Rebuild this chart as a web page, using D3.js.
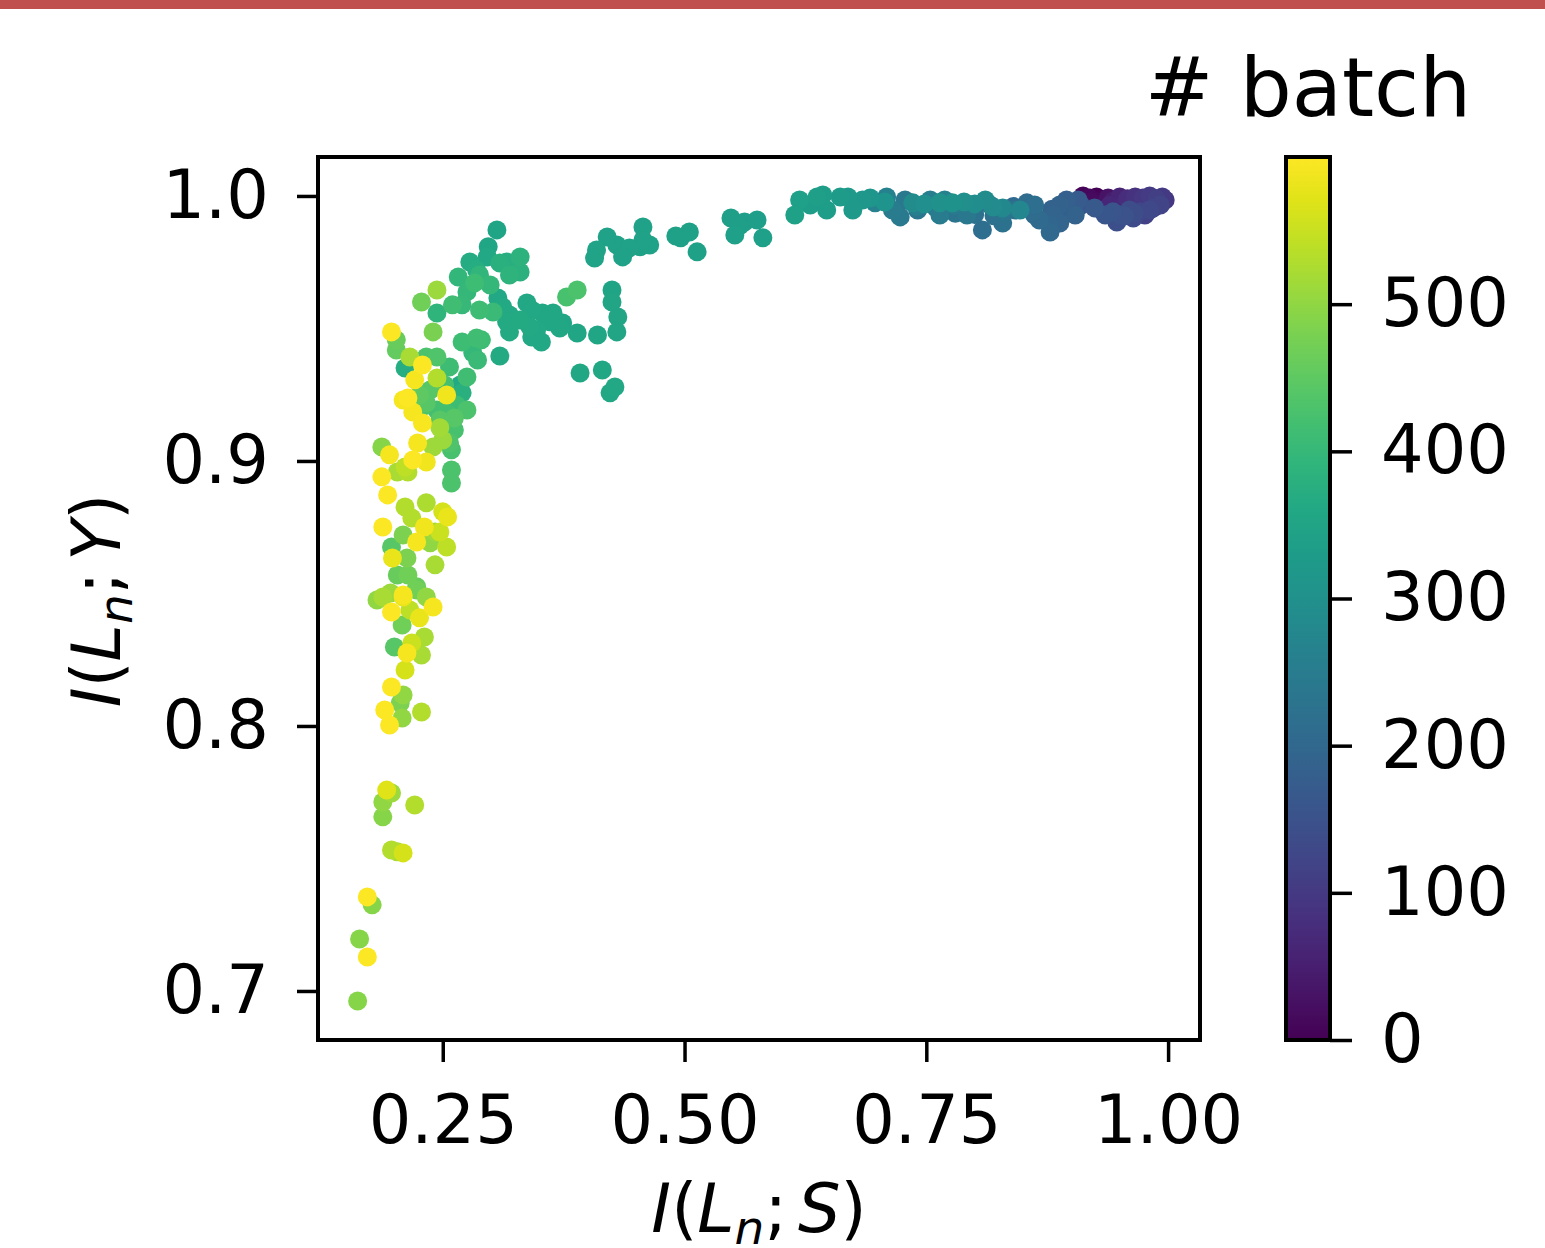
<!DOCTYPE html>
<html>
<head>
<meta charset="utf-8">
<script src="https://cdn.jsdelivr.net/npm/d3@7"></script>
<style>
    body { margin: 0; background: #ffffff; }
    svg text { font-family: "DejaVu Sans", sans-serif; fill: #000000; }
</style>
</head>
<body>
<div id="contenedorGrafico"></div>
<script>
// [I(L_n;S), I(L_n;Y), batch] leídos a ojo de la figura
const franjaSuperior = [
    [0.912, 1.000, 5], [0.919, 0.9992, 12], [0.926, 0.9996, 0], [0.931, 0.9985, 8], [0.921, 0.9977, 18],
    [0.938, 0.9992, 30], [0.943, 0.9981, 45], [0.950, 0.9996, 60], [0.958, 0.9989, 75], [0.966, 0.9996, 85],
    [0.974, 0.9992, 95], [0.981, 1.000, 105], [0.988, 0.9989, 110], [0.994, 0.9996, 100], [0.992, 0.9966, 120],
    [0.981, 0.9947, 130], [0.971, 0.9940, 125], [0.960, 0.9947, 140], [0.950, 0.9928, 150], [0.947, 0.9902, 145],
    [0.964, 0.9917, 135], [0.976, 0.9928, 115], [0.986, 0.9966, 90], [0.955, 0.9966, 70], [0.943, 0.9940, 155],
    [0.997, 0.9985, 95], [0.935, 0.9928, 160], [0.924, 0.9955, 165], [0.907, 0.9985, 170], [0.898, 0.9947, 175],
    [0.895, 0.9985, 180], [0.888, 0.9966, 185], [0.881, 0.9928, 190], [0.878, 0.9891, 195], [0.878, 0.9864, 200],
    [0.867, 0.9909, 205], [0.854, 0.9974, 210], [0.862, 0.9966, 215], [0.842, 0.9947, 220], [0.829, 0.9898, 225],
    [0.808, 0.9872, 215], [0.831, 0.9940, 230], [0.816, 0.9966, 235], [0.792, 0.9928, 240], [0.779, 0.9966, 245],
    [0.764, 0.9928, 250], [0.754, 0.9985, 255], [0.723, 0.9921, 245], [0.715, 0.9947, 250], [0.709, 0.9996, 260],
    [0.697, 0.9974, 265], [0.728, 0.9985, 240], [0.741, 0.9947, 235], [0.769, 0.9985, 262], [0.736, 0.9974, 290],
    [0.748, 0.9970, 295], [0.764, 0.9974, 300], [0.777, 0.9974, 305], [0.789, 0.9977, 298], [0.800, 0.9970, 292],
    [0.819, 0.9958, 285], [0.829, 0.9955, 280], [0.811, 0.9985, 288], [0.847, 0.9947, 275], [0.707, 0.9977, 310],
    [0.692, 0.9992, 315], [0.684, 0.9985, 320], [0.674, 0.9947, 325], [0.669, 0.9996, 322], [0.661, 0.9996, 328],
    [0.647, 0.9947, 330], [0.643, 1.0004, 332], [0.637, 0.9996, 335], [0.630, 0.9966, 330], [0.619, 0.9985, 338],
    [0.614, 0.9928, 340], [0.888, 0.9898, 190], [0.904, 0.9928, 185], [0.862, 0.9928, 200],
    [0.780, 0.9935, 230], [0.800, 0.9930, 225], [0.760, 0.9955, 240], [0.820, 0.9925, 220], [0.740, 0.9960, 255],
    [0.860, 0.9940, 210], [0.840, 0.9960, 205], [0.880, 0.9950, 185], [0.900, 0.9935, 175], [0.910, 0.9965, 160],
    [0.955, 0.9925, 150], [0.965, 0.9935, 140], [0.985, 0.9955, 120], [0.970, 0.9975, 80], [0.940, 0.9965, 65],
    [0.930, 0.9950, 40]
];
const franjaMedia = [
    [0.496, 0.9842, 338], [0.505, 0.9864, 340], [0.513, 0.9789, 342], [0.491, 0.9849, 341], [0.548, 0.9917, 335],
    [0.557, 0.9887, 336], [0.575, 0.9909, 334], [0.552, 0.9853, 337], [0.581, 0.9842, 339], [0.562, 0.9902, 333],
    [0.457, 0.9883, 344], [0.457, 0.9834, 345], [0.420, 0.9845, 346], [0.409, 0.9796, 347], [0.407, 0.9766, 348],
    [0.430, 0.9815, 345], [0.436, 0.9770, 346], [0.454, 0.9808, 343], [0.464, 0.9815, 344], [0.443, 0.9804, 345],
    [0.425, 0.9645, 350], [0.425, 0.9600, 351], [0.431, 0.9543, 352], [0.430, 0.9487, 353], [0.410, 0.9475, 354],
    [0.389, 0.9483, 355], [0.415, 0.9343, 356], [0.392, 0.9332, 357], [0.428, 0.9279, 358], [0.423, 0.9257, 357],
    [0.378, 0.9619, 425], [0.389, 0.9645, 430]
];
const grupoCodo = [
    [0.307, 0.9615, 360], [0.312, 0.9581, 362], [0.319, 0.9551, 361], [0.316, 0.9525, 363], [0.319, 0.9487, 364],
    [0.337, 0.9596, 358], [0.342, 0.9570, 359], [0.353, 0.9558, 357], [0.364, 0.9558, 356], [0.374, 0.9521, 355],
    [0.371, 0.9502, 357], [0.342, 0.9468, 360], [0.352, 0.9449, 359], [0.347, 0.9494, 358], [0.361, 0.9525, 356],
    [0.340, 0.9506, 361], [0.330, 0.9532, 363], [0.309, 0.9396, 365],
    [0.306, 0.9872, 350], [0.297, 0.9808, 355], [0.296, 0.9770, 360], [0.278, 0.9751, 368], [0.285, 0.9721, 372],
    [0.266, 0.9694, 395], [0.309, 0.9747, 380], [0.316, 0.9751, 376], [0.330, 0.9770, 385], [0.330, 0.9713, 382],
    [0.319, 0.9702, 388], [0.288, 0.9702, 392], [0.283, 0.9672, 410], [0.299, 0.9664, 400], [0.275, 0.9638, 398],
    [0.270, 0.9589, 402], [0.288, 0.9570, 412], [0.302, 0.9562, 405], [0.260, 0.9589, 415], [0.244, 0.9645, 510],
    [0.228, 0.9600, 470], [0.244, 0.9558, 390], [0.240, 0.9487, 478]
];
const colaAlta = [
    [0.197, 0.9487, 595], [0.202, 0.9457, 460], [0.202, 0.9419, 455], [0.216, 0.9392, 520], [0.211, 0.9351, 370],
    [0.221, 0.9306, 590], [0.229, 0.9362, 595], [0.233, 0.9392, 430], [0.244, 0.9392, 435], [0.257, 0.9355, 412],
    [0.244, 0.9313, 530], [0.254, 0.9249, 585], [0.270, 0.9449, 410], [0.285, 0.9464, 415], [0.290, 0.9457, 410],
    [0.281, 0.9408, 400], [0.286, 0.9381, 405], [0.275, 0.9317, 415], [0.268, 0.9287, 362], [0.270, 0.9257, 380],
    [0.264, 0.9211, 410], [0.275, 0.9192, 430], [0.214, 0.9238, 595], [0.219, 0.9185, 590], [0.229, 0.9204, 430],
    [0.244, 0.9192, 420], [0.254, 0.9181, 420], [0.237, 0.9268, 440], [0.252, 0.9287, 420], [0.226, 0.9249, 450],
    [0.262, 0.9117, 425], [0.247, 0.9155, 440]
];
const colaMedia = [
    [0.209, 0.9230, 590], [0.229, 0.9143, 592], [0.247, 0.9125, 515], [0.233, 0.9219, 440], [0.262, 0.9162, 440],
    [0.257, 0.9068, 432], [0.259, 0.9042, 425], [0.250, 0.9079, 510], [0.240, 0.9053, 512], [0.224, 0.9068, 590],
    [0.233, 0.8996, 585], [0.219, 0.9004, 595], [0.211, 0.8977, 540], [0.203, 0.8958, 520], [0.214, 0.8958, 530],
    [0.187, 0.9053, 490], [0.195, 0.9023, 590], [0.187, 0.8940, 595], [0.193, 0.8872, 595], [0.259, 0.8966, 430],
    [0.259, 0.8917, 430], [0.211, 0.8826, 530], [0.233, 0.8842, 525], [0.218, 0.8785, 530], [0.250, 0.8808, 560],
    [0.255, 0.8789, 580], [0.188, 0.8751, 595], [0.231, 0.8751, 585], [0.209, 0.8721, 480], [0.223, 0.8694, 590],
    [0.242, 0.8732, 510], [0.247, 0.8732, 550], [0.197, 0.8675, 440], [0.198, 0.8634, 580], [0.213, 0.8634, 480],
    [0.237, 0.8691, 500], [0.254, 0.8675, 540], [0.242, 0.8608, 520], [0.203, 0.8570, 460], [0.214, 0.8570, 470],
    [0.223, 0.8525, 460], [0.188, 0.8487, 520], [0.209, 0.8494, 590], [0.233, 0.8487, 500]
];
const colaBaja = [
    [0.182, 0.8475, 500], [0.196, 0.8502, 510], [0.209, 0.8487, 580], [0.223, 0.8513, 470], [0.240, 0.8449, 590],
    [0.197, 0.8430, 595], [0.216, 0.8438, 540], [0.226, 0.8408, 580], [0.208, 0.8381, 470], [0.231, 0.8336, 520],
    [0.200, 0.8298, 440], [0.218, 0.8313, 550], [0.228, 0.8268, 520], [0.213, 0.8275, 590], [0.211, 0.8211, 560],
    [0.197, 0.8147, 595], [0.209, 0.8117, 500], [0.206, 0.8087, 480], [0.190, 0.8060, 595], [0.228, 0.8053, 530],
    [0.195, 0.8004, 595], [0.208, 0.8030, 500], [0.192, 0.7758, 570], [0.197, 0.7747, 510], [0.188, 0.7713, 500],
    [0.188, 0.7657, 490], [0.221, 0.7702, 530], [0.197, 0.7532, 530], [0.203, 0.7525, 520], [0.209, 0.7521, 560],
    [0.172, 0.7355, 595], [0.177, 0.7325, 490], [0.164, 0.7196, 490], [0.172, 0.7128, 595], [0.162, 0.6962, 490]
];

const ticksX = [0.25, 0.50, 0.75, 1.00];
const ticksY = [0.7, 0.8, 0.9, 1.0];
const ticksBatch = [0, 100, 200, 300, 400, 500];
const batchMax = 599;

const ancho = 1545, alto = 1248;
const izq = 318, der = 1200, sup = 157, inf = 1040;
const barraIzq = 1286, barraDer = 1330;
const radioPunto = 9.5;
const grosor = 4;
const tamTexto = 67;

const $svg = d3.select("#contenedorGrafico")
    .append("svg")
    .attr("width", ancho)
    .attr("height", alto);

// franja roja de arriba
$svg.append("rect")
    .attr("x", 0).attr("y", 0)
    .attr("width", ancho).attr("height", 9)
    .attr("fill", "#c0504d");

const x = d3.scaleLinear().domain([0.121, 1.033]).range([izq, der]);
const y = d3.scaleLinear().domain([0.6815, 1.0147]).range([inf, sup]);
const color = d3.scaleSequential(d3.interpolateViridis).domain([0, batchMax]);
const yBarra = d3.scaleLinear().domain([0, 600]).range([inf, sup]);

const puntos = [].concat(franjaSuperior, franjaMedia, grupoCodo, colaAlta, colaMedia, colaBaja)
    .sort((a, b) => a[2] - b[2]);

$svg.append("g")
    .selectAll("circle")
    .data(puntos)
    .join("circle")
    .attr("cx", d => x(d[0]))
    .attr("cy", d => y(d[1]))
    .attr("r", radioPunto)
    .attr("fill", d => color(d[2]));

const estilizarEje = (g) => {
    g.select(".domain").remove();
    g.selectAll(".tick line").attr("stroke", "#000").attr("stroke-width", grosor - 0.5);
    g.selectAll(".tick text")
        .attr("font-size", tamTexto)
        .attr("font-family", "DejaVu Sans");
};

$svg.append("g")
    .attr("transform", `translate(0,${inf})`)
    .call(d3.axisBottom(x).tickValues(ticksX).tickFormat(d3.format(".2f")).tickSize(22).tickPadding(33))
    .call(estilizarEje);

$svg.append("g")
    .attr("transform", `translate(${izq},0)`)
    .call(d3.axisLeft(y).tickValues(ticksY).tickFormat(d3.format(".1f")).tickSize(21).tickPadding(28))
    .call(estilizarEje);

// marco del gráfico encima de los puntos
$svg.append("rect")
    .attr("x", izq).attr("y", sup)
    .attr("width", der - izq).attr("height", inf - sup)
    .attr("fill", "none")
    .attr("stroke", "#000")
    .attr("stroke-width", grosor);

// barra de color
const gradiente = $svg.append("defs").append("linearGradient")
    .attr("id", "degradado")
    .attr("x1", 0).attr("y1", 1).attr("x2", 0).attr("y2", 0);
gradiente.selectAll("stop")
    .data(d3.range(0, 1.0001, 0.05))
    .join("stop")
    .attr("offset", d => d)
    .attr("stop-color", d => d3.interpolateViridis(d));

$svg.append("rect")
    .attr("x", barraIzq).attr("y", sup)
    .attr("width", barraDer - barraIzq).attr("height", inf - sup)
    .attr("fill", "url(#degradado)")
    .attr("stroke", "#000")
    .attr("stroke-width", grosor);

$svg.append("g")
    .attr("transform", `translate(${barraDer},0)`)
    .call(d3.axisRight(yBarra).tickValues(ticksBatch).tickFormat(d3.format("d")).tickSize(22).tickPadding(29))
    .call(estilizarEje);

$svg.append("text")
    .attr("x", (barraIzq + barraDer) / 2)
    .attr("y", 116)
    .attr("text-anchor", "middle")
    .attr("font-size", 82)
    .text("# batch");

// etiquetas con estilo de mathtext
const etiquetaMat = (padre, letra) => {
    const t = padre.append("text")
        .attr("text-anchor", "middle")
        .attr("font-size", 67);
    t.append("tspan").attr("font-style", "italic").text("I");
    t.append("tspan").text("(");
    t.append("tspan").attr("font-style", "italic").text("L");
    t.append("tspan").attr("font-style", "italic").attr("font-size", 47).attr("dy", 12).text("n");
    t.append("tspan").attr("dy", -12).text(";");
    t.append("tspan").attr("font-style", "italic").attr("dx", 11).text(letra);
    t.append("tspan").text(")");
    return t;
};

etiquetaMat($svg.append("g").attr("transform", `translate(${(izq + der) / 2},1232)`), "S");
etiquetaMat($svg.append("g").attr("transform", `translate(120,${(sup + inf) / 2 + 2}) rotate(-90)`), "Y");
</script>
</body>
</html>
